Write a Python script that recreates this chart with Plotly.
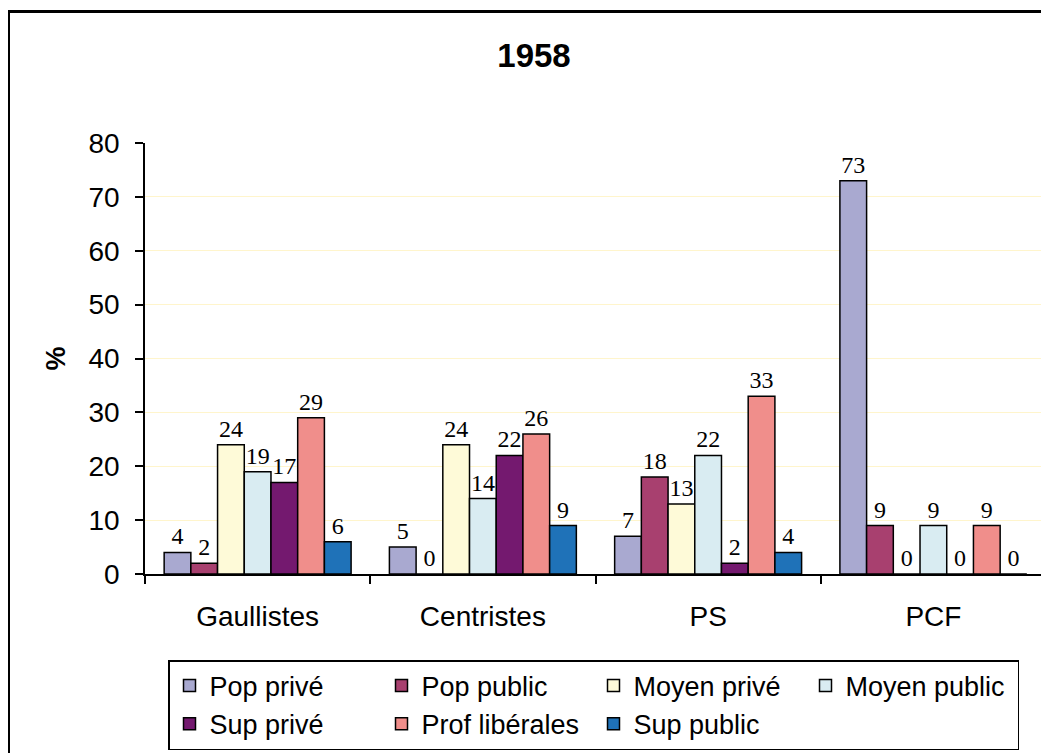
import plotly.graph_objects as go

partis = ["Gaullistes", "Centristes", "PS", "PCF"]

pop_prive = [4, 5, 7, 73]
pop_public = [2, 0, 18, 9]
moyen_prive = [24, 24, 13, 0]
moyen_public = [19, 14, 22, 9]
sup_prive = [17, 22, 2, 0]
prof_liberales = [29, 26, 33, 9]
sup_public = [6, 9, 4, 0]

series = [
    ("Pop privé", pop_prive, "#A9A9D0"),
    ("Pop public", pop_public, "#A8406F"),
    ("Moyen privé", moyen_prive, "#FEFAD8"),
    ("Moyen public", moyen_public, "#D9ECF2"),
    ("Sup privé", sup_prive, "#74196F"),
    ("Prof libérales", prof_liberales, "#F08E8B"),
    ("Sup public", sup_public, "#1F72B8"),
]

fig = go.Figure()
for name, vals, col in series:
    fig.add_trace(go.Bar(
        name=name, x=partis, y=vals,
        marker=dict(color=col, line=dict(color="black", width=1.5)),
        text=[str(v) for v in vals], textposition="outside",
        textfont=dict(family="Liberation Serif", size=24, color="black"),
        constraintext="none", cliponaxis=False,
    ))

# page body has an 8px margin, so everything is placed 8px up/left
W, H = 1049, 753
ml, mt = 137, 135
pw, ph = 901, 431
mr, mb = W - ml - pw, H - mt - ph
base = mt + ph


def px(x):
    return (x - ml) / pw


def py(y):
    return (base - y) / ph


fig.update_layout(
    width=W, height=H,
    margin=dict(l=ml, r=mr, t=mt, b=mb, autoexpand=False),
    barmode="group", bargap=0.17, bargroupgap=0,
    plot_bgcolor="white", paper_bgcolor="white",
    font=dict(family="Liberation Sans, Arial", size=28, color="black"),
    title=dict(text="<b>1958</b>", x=526 / W, xref="container", xanchor="center",
               y=1 - 47 / H, yref="container", yanchor="middle",
               font=dict(size=33, family="Liberation Sans, Arial")),
    showlegend=True,
    legend=dict(orientation="h", x=px(160), xanchor="left",
                y=py(652), yanchor="top",
                bordercolor="black", borderwidth=1.5,
                entrywidth=167, font=dict(size=27),
                traceorder="normal"),
    shapes=[dict(type="rect", xref="paper", yref="paper",
                 x0=px(0.5), x1=px(1100), y0=py(800), y1=py(3.5),
                 line=dict(color="black", width=3), layer="below")],
)

fig.update_yaxes(range=[0, 80], dtick=10, showgrid=True, gridcolor="#FFF5CC", gridwidth=1,
                 showline=True, linecolor="black", linewidth=1.5,
                 ticks="outside", ticklen=8, tickcolor="black", tickwidth=1.5,
                 ticklabelstandoff=10,
                 title=dict(text="<b>%</b>", font=dict(size=27), standoff=15),
                 zeroline=False, tickfont=dict(size=28))
fig.update_xaxes(showline=True, linecolor="black", linewidth=1.5,
                 ticks="outside", tickson="boundaries", ticklen=8, tickcolor="black", tickwidth=1.5,
                 ticklabelstandoff=17,
                 tickfont=dict(size=28))

fig.write_html("out.html")
